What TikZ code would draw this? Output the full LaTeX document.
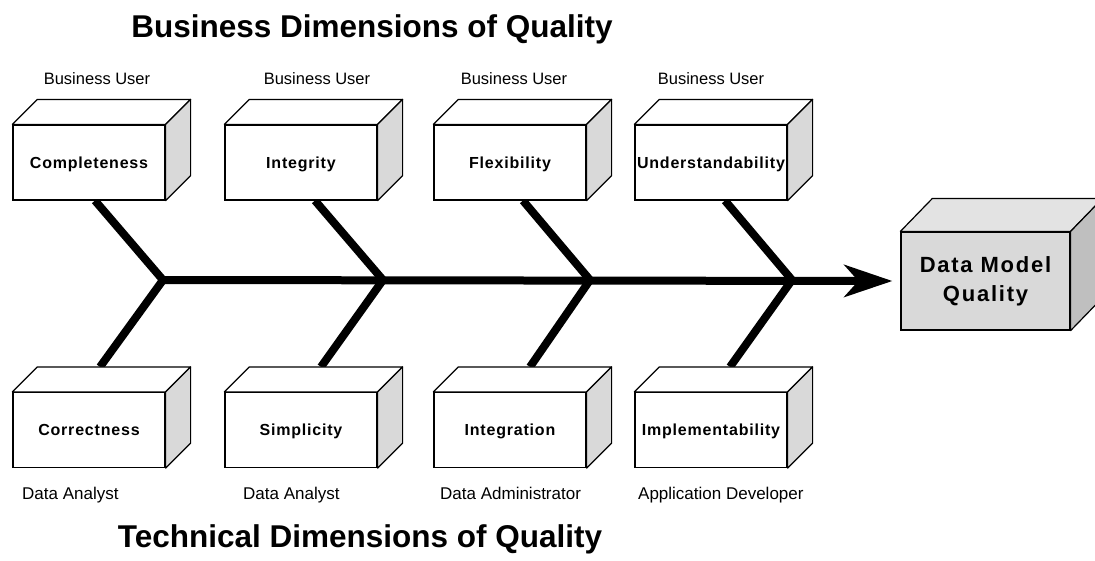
\documentclass[tikz,border=0pt]{standalone}
\usepackage{fontspec}
\setmainfont{Liberation Sans}
\newfontfamily\boxfont{Liberation Sans}[LetterSpace=5]
\newfontfamily\bigfont{Liberation Sans}[LetterSpace=8]
\usetikzlibrary{arrows.meta,backgrounds}

\tikzset{
  cube/.style={draw,line width=1.2pt,fill=white,minimum width=152pt,minimum height=75pt,inner sep=0pt,
    font=\boxfont\bfseries\fontsize{16}{19}\selectfont},
  front/.style={cube,text height=11.5pt,text depth=0pt},
  role/.style={inner sep=0pt,anchor=base,font=\fontsize{16.5}{19}\selectfont},
  title/.style={anchor=base,inner sep=0pt,font=\bfseries\fontsize{31.5}{36}\selectfont},
  bone/.style={line width=8pt,line join=miter},
  face/.style={draw,line width=1.2pt,line join=round},
}

\begin{document}
\begin{tikzpicture}[x=1pt,y=-1pt]
        \useasboundingbox (0,0) rectangle (1095,560);
        % titles
        \node[title] (btitle) at (372,37) {Business Dimensions of Quality};
        \node[title] (ttitle) at (360,547) {Technical Dimensions of Quality};
        % business boxes
        \node[front] (comp) at (89,162.5) {Completeness};
        \node[front] (integ) at (301,162.5) {Integrity};
        \node[front] (flex) at (510,162.5) {Flexibility};
        \node[front] (under) at (711,162.5) {Understandability};
        % technical boxes
        \node[front] (corr) at (89,430) {Correctness};
        \node[front] (simp) at (301,430) {Simplicity};
        \node[front] (integr) at (510,430) {Integration};
        \node[front] (impl) at (711,430) {Implementability};
        \foreach \n in {comp,integ,flex,under,corr,simp,integr,impl}{
            \draw[face,fill=white] (\n.north west) -- ++(25,-25) -- ([shift={(25,-25)}]\n.north east) -- (\n.north east) -- cycle;
            \draw[face,fill=gray!30] (\n.north east) -- ++(25,-25) -- ([shift={(25,-25)}]\n.south east) -- (\n.south east) -- cycle;
        }
        % roles
        \node[role] (bu1) at (97,84) {Business User};
        \node[role] (bu2) at (317,84) {Business User};
        \node[role] (bu3) at (514,84) {Business User};
        \node[role] (bu4) at (711,84) {Business User};
        \node[role,anchor=base west,font=\fontsize{17}{20}\selectfont] (da1) at (22,499) {Data Analyst};
        \node[role,anchor=base west,font=\fontsize{17}{20}\selectfont] (da2) at (243,499) {Data Analyst};
        \node[role,anchor=base west,font=\fontsize{17}{20}\selectfont] (dadm) at (440,499) {Data Administrator};
        \node[role,anchor=base west,font=\fontsize{17}{20}\selectfont] (adev) at (638,499) {Application Developer};
        % result
        \node[cube,fill=gray!30,minimum width=169pt,minimum height=98pt,align=center,
            font=\bigfont\bfseries\fontsize{22}{29}\selectfont] (dmq) at (985.5,281) {Data Model\\Quality};
        \draw[face,fill=gray!22] (dmq.north west) -- ++(32,-33) -- ([shift={(32,-33)}]dmq.north east) -- (dmq.north east) -- cycle;
        \draw[face,fill=gray!50] (dmq.north east) -- ++(32,-33) -- ([shift={(32,-33)}]dmq.south east) -- (dmq.south east) -- cycle;
        % fishbone
        \coordinate (j1) at (163,280);
        \coordinate (j2) at (383,280);
        \coordinate (j3) at (590,280);
        \coordinate (j4) at (792,280);
        \begin{scope}[on background layer]
            \draw[bone] ([xshift=6]comp.south) -- (j1) -- ([shift={(11,-25)}]corr.north);
            \draw[bone] ([xshift=14]integ.south) -- (j2) -- ([shift={(20,-25)}]simp.north);
            \draw[bone] ([xshift=13]flex.south) -- (j3) -- ([shift={(20,-25)}]integr.north);
            \draw[bone] ([xshift=14]under.south) -- (j4) -- ([shift={(19,-25)}]impl.north);
            \draw[bone,-{Stealth[length=48pt,width=32pt,inset=14pt]}] (j1) -- ([xshift=-8]dmq.west);
        \end{scope}
\end{tikzpicture}
\end{document}
